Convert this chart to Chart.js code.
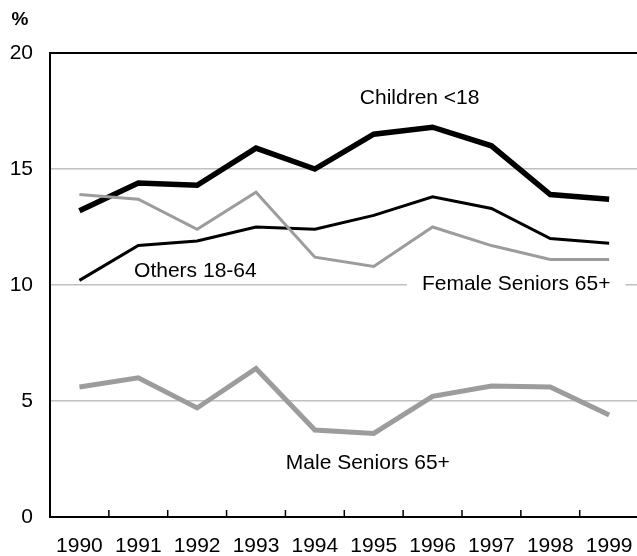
<!DOCTYPE html>
<html>
<head>
<meta charset="utf-8">
<script src="https://cdn.jsdelivr.net/npm/chart.js@4.4.1/dist/chart.umd.min.js"></script>
<style>
  html, body { margin: 0; padding: 0; background: #fff; overflow: hidden; }
  #wrap { width: 637px; height: 556px; overflow: hidden; position: relative; }
  canvas { display: block; }
</style>
</head>
<body>
<div id="wrap"><canvas id="c" width="650" height="556"></canvas></div>
<script>
const years = ['1990','1991','1992','1993','1994','1995','1996','1997','1998','1999'];
const children = [13.2, 14.4, 14.3, 15.9, 15.0, 16.5, 16.8, 16.0, 13.9, 13.7];
const others = [10.2, 11.7, 11.9, 12.5, 12.4, 13.0, 13.8, 13.3, 12.0, 11.8];
const femaleSeniors = [13.9, 13.7, 12.4, 14.0, 11.2, 10.8, 12.5, 11.7, 11.1, 11.1];
const maleSeniors = [5.6, 6.0, 4.7, 6.4, 3.75, 3.6, 5.2, 5.65, 5.6, 4.4];
const yTicks = [0, 5, 10, 15, 20];

const seriesLabels = [
  { text: 'Children <18', x: 5.78, y: 18.05, box: false },
  { text: 'Others 18-64', x: 1.97, y: 10.6, box: false },
  { text: 'Female Seniors 65+', x: 7.42, y: 10.05, box: true },
  { text: 'Male Seniors 65+', x: 4.9, y: 2.3, box: false }
];

const FONT = "'Liberation Sans', Arial, sans-serif";
const GRAY = '#9c9c9c';

const decor = {
  id: 'decor',
  afterDatasetsDraw(chart) {
    const ctx = chart.ctx;
    const a = chart.chartArea;
    const xs = chart.scales.x, ys = chart.scales.y;
    ctx.save();
    ctx.strokeStyle = '#000';
    ctx.lineWidth = 2;
    ctx.beginPath();
    ctx.moveTo(a.left - 1, a.top);
    ctx.lineTo(a.right, a.top);
    ctx.stroke();
    ctx.lineWidth = 1.5;
    for (let i = 1; i < years.length; i++) {
      const px = (xs.getPixelForValue(i - 1) + xs.getPixelForValue(i)) / 2;
      ctx.beginPath();
      ctx.moveTo(px, a.bottom);
      ctx.lineTo(px, a.bottom - 7);
      ctx.stroke();
    }
    ctx.font = '21px ' + FONT;
    ctx.textAlign = 'center';
    ctx.textBaseline = 'middle';
    seriesLabels.forEach(l => {
      const px = xs.getPixelForValue(l.x);
      const py = ys.getPixelForValue(l.y);
      if (l.box) {
        const w = ctx.measureText(l.text).width;
        ctx.fillStyle = '#fff';
        ctx.fillRect(px - w / 2 - 15, py - 12, w + 30, 24);
      }
      ctx.fillStyle = '#000';
      ctx.fillText(l.text, px, py);
    });
    ctx.font = 'bold 19px ' + FONT;
    ctx.textAlign = 'center';
    ctx.fillText('%', 20, 20);
    ctx.restore();
  }
};

new Chart(document.getElementById('c'), {
  type: 'line',
  data: {
    labels: years,
    datasets: [
      { label: 'Female Seniors 65+', data: femaleSeniors, borderColor: GRAY, borderWidth: 3 },
      { label: 'Male Seniors 65+', data: maleSeniors, borderColor: GRAY, borderWidth: 5 },
      { label: 'Others 18-64', data: others, borderColor: '#000', borderWidth: 3 },
      { label: 'Children <18', data: children, borderColor: '#000', borderWidth: 5.5 }
    ].map(d => Object.assign(d, { pointRadius: 0, fill: false, tension: 0, borderJoinStyle: 'miter', borderCapStyle: 'butt' }))
  },
  plugins: [decor],
  options: {
    responsive: false,
    animation: false,
    devicePixelRatio: 1,
    layout: { padding: { left: 0, right: 10, top: 53, bottom: 0 } },
    plugins: { legend: { display: false }, tooltip: { enabled: false }, title: { display: false } },
    scales: {
      x: {
        type: 'category',
        offset: true,
        grid: { display: false, drawTicks: false },
        border: { display: true, color: '#000', width: 2 },
        ticks: { color: '#000', font: { family: FONT, size: 21 }, padding: 17, maxRotation: 0, autoSkip: false },
        afterFit(scale) { scale.height = 39; }
      },
      y: {
        min: 0, max: 20,
        afterBuildTicks(scale) { scale.ticks = yTicks.map(v => ({ value: v })); },
        grid: { color: '#c0c0c0', lineWidth: 1.5, drawTicks: false },
        border: { display: true, color: '#000', width: 2 },
        ticks: { color: '#000', font: { family: FONT, size: 21 }, padding: 17 },
        afterFit(scale) { scale.width = 50; }
      }
    }
  }
});
</script>
</body>
</html>
